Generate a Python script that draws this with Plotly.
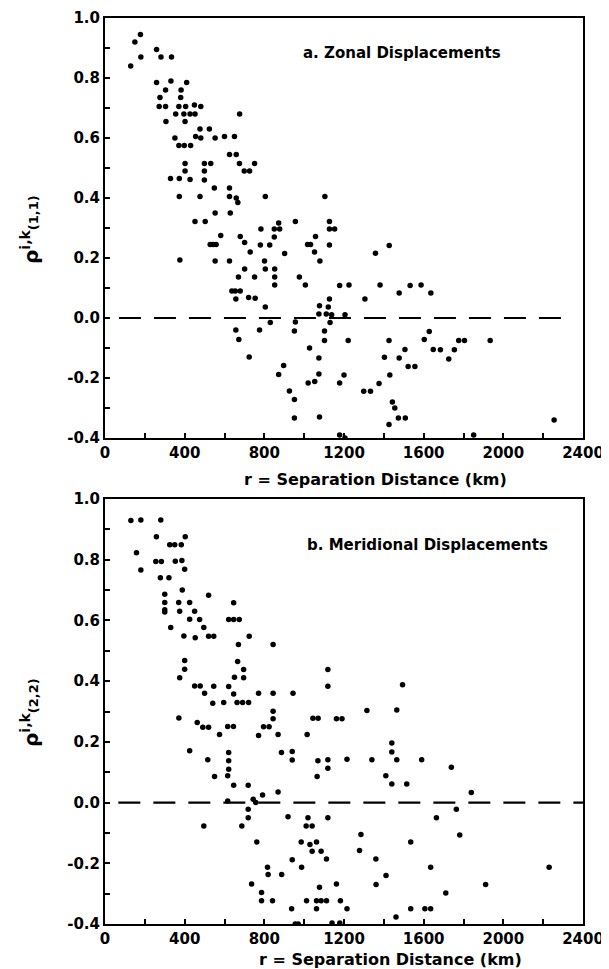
import plotly.graph_objects as go

# ---------------- data ----------------
# Panel a: zonal displacements, separation distance (km) vs correlation
zonal_r = [129, 150, 178, 180, 259, 281, 334, 259, 331, 410, 304, 382, 276, 380, 272, 304, 371, 405, 449, 481,
           355, 396, 427, 452, 306, 402, 676, 351, 371, 398, 430, 455, 481, 477, 524, 553, 600, 650, 625, 659,
           675, 699, 726, 751, 402, 402, 499, 531, 499, 499, 329, 373, 427, 549, 625, 373, 477, 625, 659, 667,
           805, 1104, 553, 629, 452, 503, 783, 850, 872, 877, 956, 1127, 1153, 1127,
           581, 679, 701, 528, 543, 558, 780, 827, 850, 1057, 1127, 729, 902, 1017, 1032, 1052, 376, 553, 625, 801,
           1079, 701, 805, 852, 670, 751, 852, 852, 976, 1006, 1225, 637, 654, 679, 657, 721, 754, 805, 830, 956,
           1077, 1121, 1127, 1074, 1111, 1138, 1205, 1130, 657, 672, 776, 951, 1102, 1102, 1221, 724, 1027, 1074,
           897, 872, 1074, 1200, 1020, 1053, 1178, 926, 951, 951, 1077, 1178, 1205,
           1427, 1358, 1178, 1381, 1477, 1532, 1587, 1636, 1305, 1426, 1628, 1603, 1648, 1684, 1726, 1754, 1776,
           1805, 1934, 1506, 1477, 1403, 1522, 1556, 1430, 1376, 1299, 1333, 1443, 1455, 1473, 1508, 1426, 1851, 2255]
zonal_rho = [0.84, 0.92, 0.945, 0.87, 0.895, 0.87, 0.87, 0.785, 0.79, 0.785, 0.76, 0.76, 0.735, 0.735, 0.705, 0.705,
             0.705, 0.705, 0.71, 0.705, 0.68, 0.68, 0.68, 0.68, 0.655, 0.655, 0.68, 0.60, 0.575, 0.575, 0.575, 0.605,
             0.60, 0.63, 0.63, 0.60, 0.605, 0.605, 0.545, 0.545, 0.515, 0.49, 0.49, 0.515, 0.515, 0.49, 0.515, 0.515,
             0.49, 0.46, 0.465, 0.465, 0.462, 0.433, 0.433, 0.405, 0.405, 0.405, 0.40, 0.385, 0.405, 0.405, 0.35, 0.35,
             0.322, 0.322, 0.297, 0.297, 0.317, 0.297, 0.322, 0.322, 0.297, 0.297,
             0.275, 0.272, 0.252, 0.245, 0.245, 0.245, 0.243, 0.243, 0.27, 0.272, 0.243, 0.22, 0.215, 0.245, 0.245,
             0.22, 0.193, 0.19, 0.19, 0.19, 0.19, 0.163, 0.163, 0.163, 0.137, 0.137, 0.137, 0.11, 0.137, 0.11, 0.11,
             0.09, 0.09, 0.09, 0.063, 0.068, 0.066, 0.037, -0.015, -0.013, 0.041, 0.037, 0.063, 0.013, 0.013, 0.011,
             0.011, -0.015, -0.04, -0.072, -0.04, -0.043, -0.043, -0.075, -0.075, -0.13, -0.10, -0.133, -0.158,
             -0.188, -0.187, -0.19, -0.217, -0.212, -0.217, -0.243, -0.272, -0.333, -0.33, -0.39, -0.40,
             0.242, 0.216, 0.108, 0.11, 0.083, 0.108, 0.11, 0.083, 0.063, -0.075, -0.045, -0.072, -0.105, -0.106,
             -0.137, -0.106, -0.075, -0.075, -0.075, -0.105, -0.133, -0.131, -0.162, -0.162, -0.19, -0.218, -0.244,
             -0.244, -0.28, -0.30, -0.333, -0.333, -0.355, -0.39, -0.34]

# Panel b: meridional displacements
merid_r = [130, 180, 280, 158, 180, 258, 403, 325, 350, 383, 255, 283, 353, 386, 400, 278, 321, 388, 300, 300,
           300, 300, 370, 425, 375, 450, 425, 475, 330, 496, 520, 646, 621, 646, 674, 396, 453, 520, 546, 670,
           724, 844, 400, 400, 666, 696, 375, 650, 696, 1119, 1119, 450, 478, 546, 621, 500, 646, 771, 844, 944, 1494,
           541, 596, 663, 691, 721, 844, 844, 371, 463, 491, 520, 616, 645, 796, 824, 1044, 1070, 1162, 1190,
           575, 771, 869, 1015, 425, 621, 886, 940, 516, 621, 940, 1069, 1119, 1215, 621, 1119, 550, 616, 1065,
           646, 719, 869, 791, 616, 744, 757, 719, 719, 496, 687, 919, 1019, 1119, 1010, 1040, 762, 985, 1029,
           1040, 1062, 1085, 940, 1112, 816, 819, 887, 987, 736, 786, 786, 841, 937, 1012, 1077, 1062, 1085, 1112,
           1062, 1162, 1182, 1215, 955, 970, 1140, 1179,
           1315, 1465, 1440, 1440, 1340, 1465, 1590, 1739, 1410, 1440, 1515, 1839, 1764, 1664, 1781, 1285, 1535,
           1278, 1360, 1635, 2230, 1411, 1361, 1911, 1711, 1535, 1606, 1635, 1461]
merid_rho = [0.929, 0.931, 0.931, 0.823, 0.766, 0.876, 0.876, 0.849, 0.849, 0.849, 0.794, 0.794, 0.795, 0.797, 0.769,
             0.741, 0.741, 0.70, 0.686, 0.659, 0.635, 0.628, 0.659, 0.659, 0.63, 0.63, 0.604, 0.603, 0.577, 0.577,
             0.683, 0.658, 0.603, 0.603, 0.603, 0.549, 0.543, 0.548, 0.548, 0.521, 0.548, 0.521, 0.468, 0.439, 0.465,
             0.438, 0.411, 0.413, 0.411, 0.438, 0.383, 0.384, 0.384, 0.383, 0.382, 0.36, 0.358, 0.36, 0.36, 0.36, 0.388,
             0.327, 0.33, 0.33, 0.33, 0.33, 0.301, 0.276, 0.279, 0.264, 0.248, 0.248, 0.251, 0.251, 0.25, 0.25, 0.278,
             0.278, 0.276, 0.276, 0.224, 0.221, 0.224, 0.224, 0.171, 0.165, 0.165, 0.168, 0.141, 0.138, 0.14, 0.138,
             0.141, 0.143, 0.11, 0.113, 0.086, 0.088, 0.086, 0.057, 0.057, 0.035, 0.025, 0.005, 0.011, 0.0, -0.022,
             -0.05, -0.077, -0.077, -0.047, -0.05, -0.05, -0.077, -0.077, -0.13, -0.13, -0.138, -0.16, -0.13, -0.16,
             -0.188, -0.186, -0.213, -0.237, -0.237, -0.213, -0.268, -0.296, -0.323, -0.323, -0.35, -0.323, -0.279,
             -0.323, -0.323, -0.323, -0.35, -0.268, -0.323, -0.35, -0.40, -0.40, -0.397, -0.397,
             0.303, 0.305, 0.196, 0.167, 0.141, 0.141, 0.141, 0.116, 0.088, 0.061, 0.061, 0.033, -0.022, -0.05,
             -0.107, -0.105, -0.13, -0.158, -0.186, -0.213, -0.213, -0.24, -0.27, -0.27, -0.298, -0.35, -0.35,
             -0.35, -0.377]

# zero reference lines (extent in km)
zero_line_a_r = [70, 2290]
zero_line_b_r = [67, 2400]
zero_line_rho = [0.0, 0.0]

x_tick_vals = [0, 400, 800, 1200, 1600, 2000, 2400]
x_tick_text = ["0", "400", "800", "1200", "1600", "2000", "2400"]
y_tick_vals = [1.0, 0.8, 0.6, 0.4, 0.2, 0.0, -0.2, -0.4]
y_tick_text = ["1.0", "0.8", "0.6", "0.4", "0.2", "0.0", "-0.2", "-0.4"]

FONT = "DejaVu Sans"
W, H = 609, 969
OFF = 8  # page body margin: positions below are page pixels minus this offset


def px(x):
    return (x - OFF) / W


def py(y):
    return 1 - (y - OFF) / H


fig = go.Figure()

marker = dict(color="black", size=5.5, line=dict(width=0))
dash_line = dict(color="black", width=2.2, dash="22px,13px")

fig.add_trace(go.Scatter(x=zero_line_a_r, y=zero_line_rho, mode="lines", line=dash_line,
                         xaxis="x", yaxis="y", showlegend=False, hoverinfo="skip"))
fig.add_trace(go.Scatter(x=zonal_r, y=zonal_rho, mode="markers", marker=marker,
                         xaxis="x", yaxis="y", showlegend=False))
fig.add_trace(go.Scatter(x=zero_line_b_r, y=zero_line_rho, mode="lines", line=dash_line,
                         xaxis="x2", yaxis="y2", showlegend=False, hoverinfo="skip"))
fig.add_trace(go.Scatter(x=merid_r, y=merid_rho, mode="markers", marker=marker,
                         xaxis="x2", yaxis="y2", showlegend=False))

tickfont = dict(family=FONT, size=15, color="black", weight="bold")


def xax(anchor):
    return dict(domain=[px(105), px(583)], anchor=anchor, range=[0, 2400],
                tickmode="array", tickvals=x_tick_vals, ticktext=x_tick_text,
                ticks="inside", ticklen=5, tickwidth=1.5, tickcolor="black",
                minor=dict(dtick=200, tick0=0, ticks="inside", ticklen=5, tickwidth=1.5, tickcolor="black"),
                showline=True, linewidth=2, linecolor="black", mirror=True,
                showgrid=False, zeroline=False, tickfont=tickfont, automargin=False,
                ticklabeloverflow="allow")


def yax(anchor, top, bottom):
    return dict(domain=[py(bottom), py(top)], anchor=anchor, range=[-0.4, 1.0],
                tickmode="array", tickvals=y_tick_vals, ticktext=y_tick_text,
                ticks="inside", ticklen=5, tickwidth=1.5, tickcolor="black",
                minor=dict(dtick=0.1, tick0=0, ticks="inside", ticklen=5, tickwidth=1.5, tickcolor="black"),
                showline=True, linewidth=2, linecolor="black", mirror=True,
                showgrid=False, zeroline=False, tickfont=tickfont, automargin=False,
                ticklabeloverflow="allow")


ann_font = dict(family=FONT, size=15, color="black", weight="bold")
title_font = dict(family=FONT, size=16, color="black", weight="bold")
ylab_font = dict(family=FONT, size=20, color="black", weight="bold")

annotations = [
    dict(text="a. Zonal Displacements", x=px(301), y=py(53), xref="paper", yref="paper",
         xanchor="left", yanchor="middle", showarrow=False, font=ann_font),
    dict(text="b. Meridional Displacements", x=px(305), y=py(545), xref="paper", yref="paper",
         xanchor="left", yanchor="middle", showarrow=False, font=ann_font),
    dict(text="r = Separation Distance (km)", x=px(375), y=py(479), xref="paper", yref="paper",
         xanchor="center", yanchor="middle", showarrow=False, font=title_font),
    dict(text="r = Separation Distance (km)", x=px(390), y=py(959), xref="paper", yref="paper",
         xanchor="center", yanchor="middle", showarrow=False, font=title_font),
    dict(text="ρ<sup>i,k</sup><span style='font-size:13px'>(1,1)</span>", x=px(30), y=py(230),
         xref="paper", yref="paper", xanchor="center", yanchor="middle", textangle=-90,
         showarrow=False, font=ylab_font),
    dict(text="ρ<sup>i,k</sup><span style='font-size:13px'>(2,2)</span>", x=px(30), y=py(713),
         xref="paper", yref="paper", xanchor="center", yanchor="middle", textangle=-90,
         showarrow=False, font=ylab_font),
]

fig.update_layout(
    width=W, height=H,
    margin=dict(l=0, r=0, t=0, b=0),
    paper_bgcolor="white", plot_bgcolor="white",
    xaxis=xax("y"), yaxis=yax("x", 18, 438),
    xaxis2=xax("y2"), yaxis2=yax("x2", 499, 924),
    annotations=annotations,
    showlegend=False,
)

fig.write_html("out.html")
